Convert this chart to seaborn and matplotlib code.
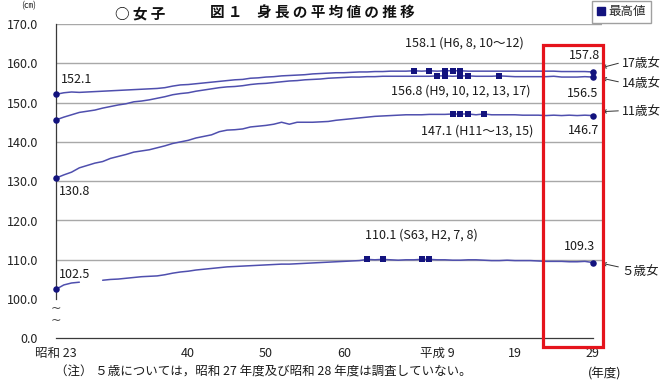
import numpy as np
import pandas as pd
import matplotlib
matplotlib.use("Agg")
import matplotlib.pyplot as plt
import seaborn as sns
from matplotlib.lines import Line2D
from matplotlib.patches import Rectangle

# ---------------- data ----------------
years = list(range(1948, 2018))

h17 = [152.1, 152.5, 152.7, 152.6, 152.7, 152.8, 152.9, 153.0, 153.1, 153.2,
       153.3, 153.4, 153.5, 153.6, 153.8, 154.2, 154.5, 154.6, 154.8, 155.0,
       155.2, 155.4, 155.6, 155.8, 155.9, 156.2, 156.3, 156.5, 156.6, 156.8,
       156.9, 157.0, 157.1, 157.3, 157.4, 157.5, 157.6, 157.6, 157.7, 157.8,
       157.8, 157.9, 157.9, 158.0, 158.0, 158.0, 158.1, 158.0, 158.1, 158.0,
       158.1, 158.1, 158.1, 158.0, 158.0, 158.0, 158.0, 158.0, 158.0, 158.0,
       158.0, 158.0, 158.0, 158.0, 158.0, 157.9, 157.9, 157.9, 157.9, 157.8]

h14 = [145.6, 146.3, 146.9, 147.5, 147.8, 148.1, 148.6, 149.0, 149.4, 149.7,
       150.2, 150.4, 150.7, 151.1, 151.5, 152.0, 152.3, 152.5, 152.9, 153.2,
       153.5, 153.8, 154.0, 154.1, 154.3, 154.6, 154.8, 154.9, 155.1, 155.3,
       155.5, 155.6, 155.8, 155.9, 156.0, 156.2, 156.3, 156.4, 156.5, 156.5,
       156.6, 156.6, 156.7, 156.7, 156.7, 156.7, 156.7, 156.7, 156.7, 156.8,
       156.8, 156.7, 156.8, 156.8, 156.7, 156.7, 156.7, 156.8, 156.7, 156.6,
       156.6, 156.6, 156.6, 156.6, 156.7, 156.5, 156.5, 156.5, 156.6, 156.5]

h11 = [130.8, 131.6, 132.3, 133.4, 134.0, 134.6, 135.0, 135.8, 136.3, 136.8,
       137.4, 137.7, 138.0, 138.5, 139.0, 139.6, 140.0, 140.4, 141.0, 141.4,
       141.8, 142.6, 143.0, 143.1, 143.3, 143.8, 144.0, 144.2, 144.5, 145.0,
       144.5, 145.0, 145.0, 145.0, 145.1, 145.2, 145.5, 145.7, 145.9, 146.1,
       146.3, 146.5, 146.6, 146.7, 146.8, 146.9, 146.9, 146.9, 147.0, 147.0,
       147.0, 147.1, 147.1, 147.1, 146.9, 147.1, 146.9, 146.9, 146.9, 146.9,
       146.8, 146.8, 146.8, 146.7, 146.8, 146.7, 146.8, 146.7, 146.8, 146.7]

h5 = [102.5, 103.6, 104.1, 104.3, np.nan, np.nan, 104.8, 105.0, 105.1, 105.3,
      105.5, 105.7, 105.8, 105.9, 106.2, 106.6, 106.9, 107.1, 107.4, 107.6,
      107.8, 108.0, 108.2, 108.3, 108.4, 108.5, 108.6, 108.7, 108.8, 108.9,
      108.9, 109.0, 109.1, 109.2, 109.3, 109.4, 109.5, 109.6, 109.7, 109.8,
      110.1, 110.0, 110.1, 110.0, 109.9, 110.0, 110.0, 110.1, 110.1, 110.0,
      110.0, 109.9, 109.9, 110.0, 110.0, 109.9, 109.8, 109.8, 109.9, 109.8,
      109.8, 109.8, 109.7, 109.6, 109.6, 109.6, 109.5, 109.5, 109.6, 109.3]

max_years_17 = [1994, 1996, 1998, 1999, 2000]
max_years_14 = [1997, 1998, 2000, 2001, 2005]
max_years_11 = [1999, 2000, 2001, 2003]
max_years_5 = [1988, 1990, 1995, 1996]

xtick_years = [1948, 1965, 1975, 1985, 1997, 2007, 2017]
xtick_labels = ["昭和 23", "40", "50", "60", "平成 9", "19", "29"]
ytick_major = [110, 120, 130, 140, 150, 160, 170]
ytick_major_labels = ["110.0", "120.0", "130.0", "140.0", "150.0", "160.0", "170.0"]
ytick_minor = [90, 100]
ytick_minor_labels = ["0.0", "100.0"]

series_names = ["17歳女", "14歳女", "11歳女", "５歳女"]

# ---------------- style ----------------
sns.set_theme(style="white")
plt.rcParams["font.family"] = ["Noto Sans CJK JP", "DejaVu Sans"]

LINE = "#4f4fae"
NAVY = "#13137e"
GRID = "#a8a8a8"
SPINE = "#3a3a3a"

fig = plt.figure(figsize=(6.6, 3.87), dpi=100)
ax = fig.add_axes([56 / 660, 1 - 338.4 / 387, 546 / 660, (338.4 - 24) / 387])

all_series = [h17, h14, h11, h5]
all_max = [max_years_17, max_years_14, max_years_11, max_years_5]

for name, vals, mx in zip(series_names, all_series, all_max):
    df = pd.DataFrame({"year": years, "h": vals})
    df["seg"] = df["h"].isna().cumsum()
    df = df.dropna()
    sns.lineplot(data=df, x="year", y="h", units="seg", estimator=None,
                 color=LINE, linewidth=1.1, ax=ax, legend=False, zorder=2)
    mdf = df[df["year"].isin(mx)]
    sns.scatterplot(data=mdf, x="year", y="h", marker="s", s=20, color=NAVY,
                    edgecolor=NAVY, linewidth=0, ax=ax, legend=False, zorder=3)
    edf = df[df["year"].isin([years[0], years[-1]])]
    sns.scatterplot(data=edf, x="year", y="h", marker="o", s=22, color=NAVY,
                    edgecolor=NAVY, linewidth=0, ax=ax, legend=False, zorder=4,
                    clip_on=False)

ax.set_xlim(1948, 2018.2)
ax.set_ylim(90, 170)
ax.set_xlabel("")
ax.set_ylabel("")

ax.set_yticks(ytick_major, labels=ytick_major_labels)
ax.set_yticks(ytick_minor, labels=ytick_minor_labels, minor=True)
ax.set_xticks(xtick_years, labels=xtick_labels)
ax.set_xticks(years, minor=True)
ax.grid(axis="y", which="major", color=GRID, linewidth=1.0)
ax.grid(axis="x", visible=False)

ax.tick_params(axis="y", which="both", direction="in", length=3, pad=13,
               labelsize=9, colors=SPINE, labelcolor="#222222")
ax.tick_params(axis="x", which="both", direction="in", length=3.5, pad=6,
               labelsize=9, colors=SPINE, labelcolor="#222222", width=0.8)

for s in ["top", "right"]:
    ax.spines[s].set_visible(False)
for s in ["left", "bottom"]:
    ax.spines[s].set_color(SPINE)
    ax.spines[s].set_linewidth(0.9)
ax.spines["left"].set_bounds(100, 170)
ax.spines["bottom"].set_bounds(1948, 2017)

# break marks
for yv in [97.6, 94.6]:
    ax.text(1948, yv, "~", ha="center", va="center", fontsize=9,
            color="#444444", family="DejaVu Sans", clip_on=False)

# value annotations
tk = dict(fontsize=9, color="#1a1a1a")
ax.text(1948.6, 156.0, "152.1", ha="left", va="center", **tk)
ax.text(1948.4, 127.4, "130.8", ha="left", va="center", **tk)
ax.text(1948.4, 106.3, "102.5", ha="left", va="center", **tk)
ax.text(2000.5, 165.2, "158.1 (H6, 8, 10～12)", ha="center", va="center", **tk)
ax.text(2000.1, 153.0, "156.8 (H9, 10, 12, 13, 17)", ha="center", va="center", **tk)
ax.text(2002.1, 142.8, "147.1 (H11～13, 15)", ha="center", va="center", **tk)
ax.text(1995.0, 116.3, "110.1 (S63, H2, 7, 8)", ha="center", va="center", **tk)
ax.text(2018.0, 162.1, "157.8", ha="right", va="center", **tk)
ax.text(2017.7, 152.4, "156.5", ha="right", va="center", **tk)
ax.text(2017.9, 143.0, "146.7", ha="right", va="center", **tk)
ax.text(2017.3, 113.5, "109.3", ha="right", va="center", **tk)

# series labels with arrows
label_pos = [(160.0, 160.0, 158.9), (154.9, 155.3, 156.2),
             (147.7, 147.9, 147.7), (107.0, 108.2, 109.1)]
for name, (ly, ty, hy) in zip(series_names, label_pos):
    ax.text(2020.7, ly, name, ha="left", va="center", fontsize=9,
            color="#1a1a1a", clip_on=False)
    ax.annotate("", xy=(2018.2, hy), xytext=(2020.3, ty),
                arrowprops=dict(arrowstyle="->", color="#333333", lw=0.7,
                                shrinkA=0, shrinkB=0, mutation_scale=6),
                annotation_clip=False)

# red highlight box
ax.add_patch(Rectangle((2010.6, 87.8), 7.75, 164.7 - 87.8, fill=False,
                       edgecolor="#e5141c", linewidth=2.3, clip_on=False,
                       zorder=6))

# title
fig.text(140 / 660, 1 - 13 / 387, "○ 女 子", ha="center", va="center",
         fontsize=10.5, fontweight="bold", color="#111111")
fig.text(312 / 660, 1 - 13 / 387, "図 １　身 長 の 平 均 値 の 推 移",
         ha="center", va="center", fontsize=10.5, fontweight="bold",
         color="#111111")
fig.text(29 / 660, 1 - 6 / 387, "(㎝)", ha="center", va="center",
         fontsize=6.5, color="#222222")

# legend
handle = Line2D([], [], marker="s", linestyle="", color=NAVY, markersize=6)
fig.legend(handles=[handle], labels=["最高値"], loc="upper left",
           bbox_to_anchor=(592 / 660, 1 - 1 / 387), frameon=True,
           fancybox=False, edgecolor="#888888", fontsize=9,
           handlelength=0.7, handletextpad=0.3, borderpad=0.35,
           borderaxespad=0)

# footnote
fig.text(55 / 660, 1 - 372 / 387,
         "（注） ５歳については，昭和 27 年度及び昭和 28 年度は調査していない。",
         ha="left", va="center", fontsize=9, color="#1a1a1a")
fig.text(605 / 660, 1 - 374 / 387, "(年度)", ha="center", va="center",
         fontsize=9, color="#1a1a1a")

fig.savefig("out.png", dpi=100)
